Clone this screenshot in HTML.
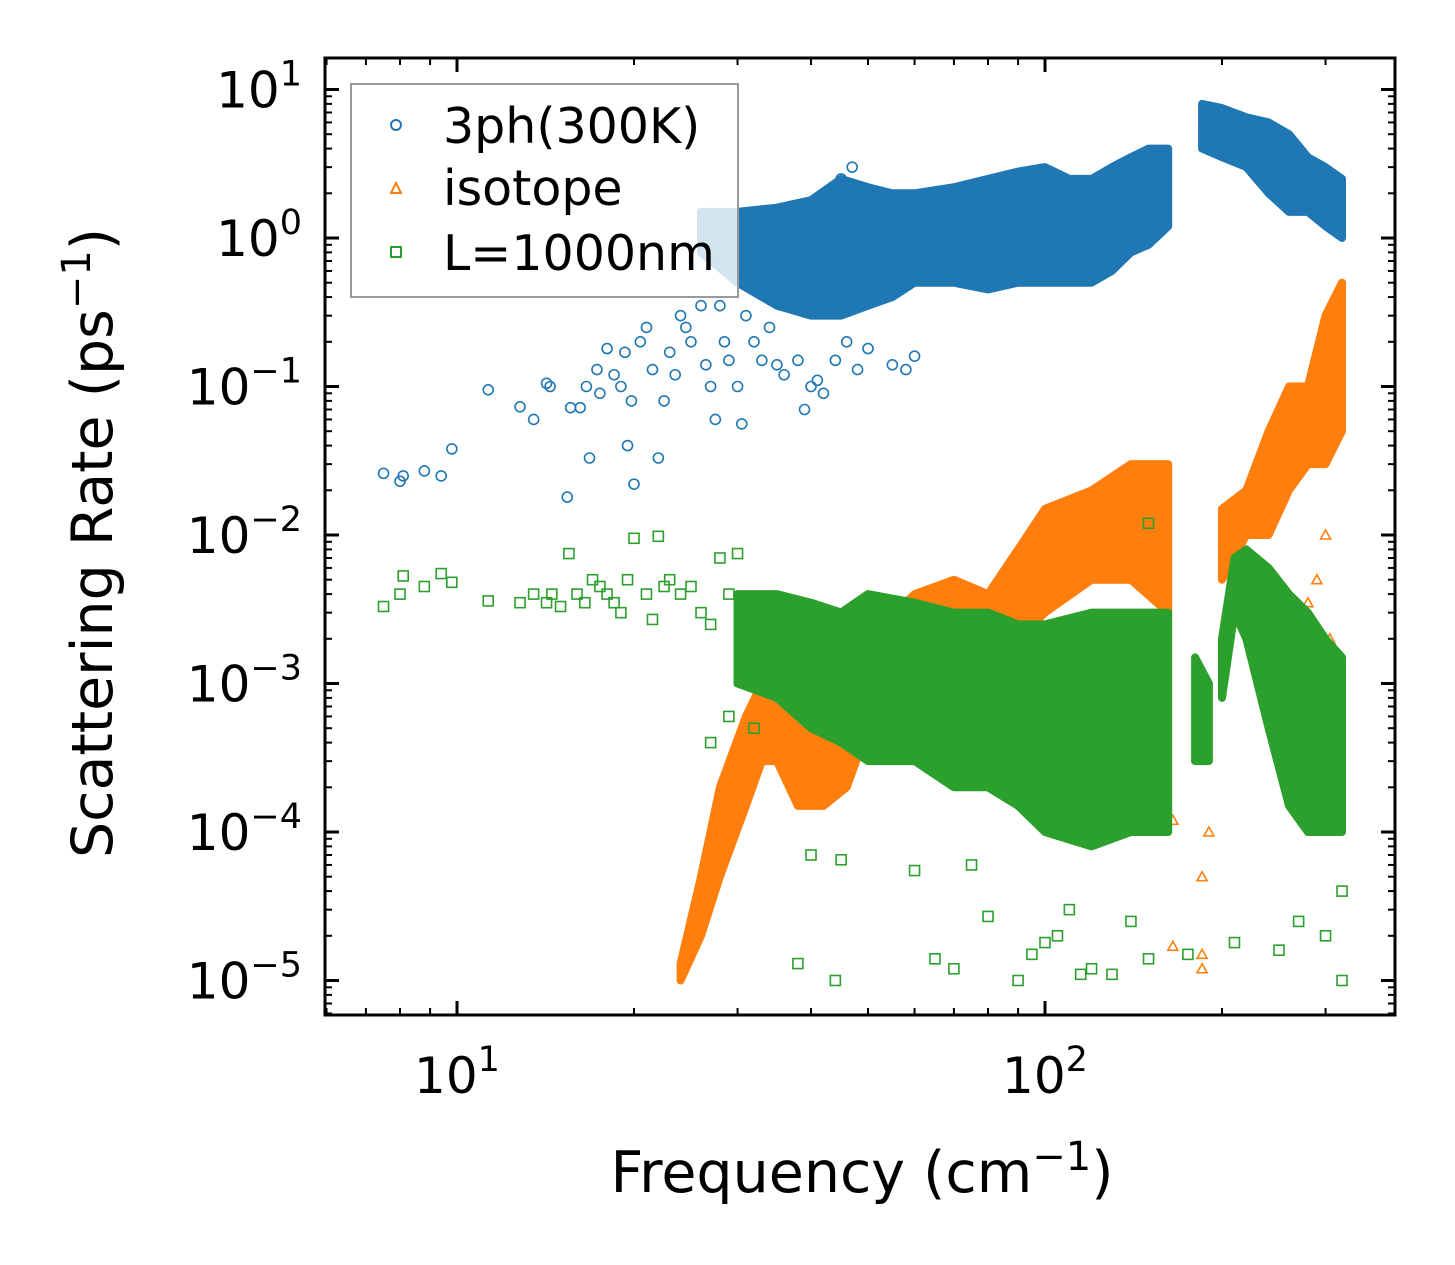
<!DOCTYPE html>
<html><head><meta charset="utf-8"><style>
html,body{margin:0;padding:0;background:#fff;}
svg{display:block;font-family:"DejaVu Sans","Liberation Sans",sans-serif;}
</style></head><body>
<svg id="chart" width="1455" height="1265" viewBox="0 0 1455 1265" xmlns="http://www.w3.org/2000/svg">
<rect width="1455" height="1265" fill="#fff"/>
<g id="plot"></g>
<g id="axes"></g>
<g id="legend">
<rect x="351" y="84" width="387" height="213" fill="#fff" fill-opacity="0.8" stroke="#999" stroke-width="2"/>
<circle cx="396" cy="125" r="5" fill="none" stroke="#1f77b4" stroke-width="2"/>
<text x="443" y="143" font-size="49">3ph(300K)</text>
<polygon points="396,183 401,193 391,193" fill="none" stroke="#ff7f0e" stroke-width="2"/>
<text x="443" y="205" font-size="49">isotope</text>
<rect x="391" y="247" width="10" height="10" fill="none" stroke="#2ca02c" stroke-width="2"/>
<text x="443" y="270" font-size="49">L=1000nm</text>
</g>
<text x="862" y="1192" font-size="57" text-anchor="middle">Frequency (cm<tspan dy="-22" font-size="40">−1</tspan><tspan dy="22">)</tspan></text>
<text transform="translate(112,543) rotate(-90)" font-size="57" text-anchor="middle">Scattering Rate (ps<tspan dy="-22" font-size="40">−1</tspan><tspan dy="22">)</tspan></text>
</svg>
<script>
// ---- data ----
const xTickExps = [1, 2];
const yTickExps = [1, 0, -1, -2, -3, -4, -5];
// dense clouds as bands: [freq, low, high]
const band3ph = [[26,0.8,1.5],[30,0.5,1.5],[35,0.35,1.6],[40,0.3,1.8],[45,0.3,2.5],[50,0.35,2.2],[55,0.4,2],[60,0.5,2],[70,0.5,2.2],[80,0.45,2.5],[90,0.5,2.8],[100,0.5,3],[110,0.5,2.5],[120,0.5,2.5],[130,0.6,3],[140,0.8,3.5],[150,0.9,4],[162,1.2,4]];
const band3phHigh = [[185,4,8],[200,3.5,7.5],[220,3,6.5],[240,2,6],[260,1.5,5],[280,1.5,3.5],[300,1.2,3],[320,1,2.5]];
const bandIso = [[24,1e-5,1.3e-5],[26,2e-5,5e-5],[28,5e-5,2e-4],[31,1.5e-4,6e-4],[33,3e-4,1e-3],[35,3e-4,1.2e-3],[38,1.5e-4,6e-4],[42,1.5e-4,4e-4],[46,2e-4,1e-3],[50,5e-4,2e-3],[60,1e-3,4e-3],[70,1e-3,5e-3],[80,1e-3,4e-3],[90,2e-3,8e-3],[100,3e-3,1.5e-2],[120,5e-3,2e-2],[140,5e-3,3e-2],[162,3e-3,3e-2]];
const bandIsoHigh = [[200,5e-3,1.5e-2],[220,1e-2,2e-2],[240,1e-2,5e-2],[260,2e-2,1e-1],[280,3e-2,0.1],[300,0.03,0.3],[320,0.05,0.5]];
const bandL = [[30,1e-3,4e-3],[35,8e-4,4e-3],[40,5e-4,3.5e-3],[45,4e-4,3e-3],[50,3e-4,4e-3],[60,3e-4,3.5e-3],[70,2e-4,3e-3],[80,2e-4,3e-3],[90,1.5e-4,2.5e-3],[100,1e-4,2.5e-3],[120,8e-5,3e-3],[140,1e-4,3e-3],[162,1e-4,3e-3]];
const bandLMid = [[180,3e-4,1.5e-3],[190,3e-4,1e-3]];
const bandLHigh = [[200,8e-4,2e-3],[210,3e-3,7e-3],[220,2e-3,8e-3],[240,5e-4,6e-3],[260,1.5e-4,4e-3],[280,1e-4,3e-3],[300,1e-4,2e-3],[320,1e-4,1.5e-3]];
// sparse points
const pts3ph = [[7.5,0.026],[8,0.023],[8.1,0.025],[8.8,0.027],[9.4,0.025],[9.8,0.038],[11.3,0.095],[12.8,0.073],[13.5,0.06],[14.2,0.105],[14.4,0.1],[15.4,0.018],[15.6,0.072],[16.2,0.072],[16.6,0.1],[16.8,0.033],[17.3,0.13],[17.5,0.09],[18,0.18],[18.5,0.12],[19,0.1],[19.3,0.17],[19.5,0.04],[19.8,0.08],[20,0.022],[20.5,0.2],[21,0.25],[21.5,0.13],[22,0.033],[22.5,0.08],[23,0.17],[23.5,0.12],[24,0.3],[24.5,0.25],[25,0.2],[26,0.35],[26.5,0.14],[27,0.1],[27.5,0.06],[28,0.35],[28.5,0.2],[29,0.15],[30,0.1],[30.5,0.056],[31,0.3],[32,0.2],[33,0.15],[34,0.25],[35,0.14],[36,0.12],[38,0.15],[39,0.07],[40,0.1],[41,0.11],[42,0.09],[44,0.15],[46,0.2],[48,0.13],[50,0.18],[55,0.14],[58,0.13],[60,0.16],[45,2.5],[47,3],[150,1.3],[160,1.3]];
const ptsIso = [[165,1.7e-5],[165,1.2e-4],[185,1.5e-5],[185,1.2e-5],[185,5e-5],[190,1e-4],[280,3.5e-3],[300,2e-3],[305,2e-3],[300,1e-2],[290,5e-3],[300,1e-3]];
const ptsL = [[7.5,3.3e-3],[8,4e-3],[8.1,5.3e-3],[8.8,4.5e-3],[9.4,5.5e-3],[9.8,4.8e-3],[11.3,3.6e-3],[12.8,3.5e-3],[13.5,4e-3],[14.2,3.5e-3],[14.5,4e-3],[15,3.3e-3],[15.5,7.5e-3],[16,4e-3],[16.5,3.5e-3],[17,5e-3],[17.5,4.5e-3],[18,4e-3],[18.5,3.5e-3],[19,3e-3],[19.5,5e-3],[20,9.5e-3],[21,4e-3],[21.5,2.7e-3],[22,9.8e-3],[22.5,4.5e-3],[23,5e-3],[24,4e-3],[25,4.5e-3],[26,3e-3],[27,2.5e-3],[28,7e-3],[29,4e-3],[30,7.5e-3],[27,4e-4],[29,6e-4],[32,5e-4],[38,1.3e-5],[44,1e-5],[40,7e-5],[45,6.5e-5],[60,5.5e-5],[65,1.4e-5],[70,1.2e-5],[75,6e-5],[80,2.7e-5],[90,1e-5],[95,1.5e-5],[100,1.8e-5],[105,2e-5],[110,3e-5],[115,1.1e-5],[120,1.2e-5],[130,1.1e-5],[140,2.5e-5],[150,1.4e-5],[150,1.2e-2],[175,1.5e-5],[210,1.8e-5],[250,1.6e-5],[270,2.5e-5],[300,2e-5],[320,1e-5],[320,4e-5]];

// ---- axes functions ----
const L=325,R=1395,T=58,B=1015;
const xs = f => 457 + 588*(Math.log10(f)-1);
const ys = v => 238 - 148.5*Math.log10(v);
const NS="http://www.w3.org/2000/svg";
const plot=document.getElementById('plot'), axes=document.getElementById('axes');
function mk(tag,attrs,parent){const e=document.createElementNS(NS,tag);for(const k in attrs)e.setAttribute(k,attrs[k]);parent.appendChild(e);return e;}

const colors={b:'#1f77b4',o:'#ff7f0e',g:'#2ca02c'};
function drawBand(band,color,name){
  const up=band.map(d=>xs(d[0]).toFixed(1)+','+ys(d[2]).toFixed(1));
  const lo=band.slice().reverse().map(d=>xs(d[0]).toFixed(1)+','+ys(d[1]).toFixed(1));
  const p=mk('polygon',{points:up.concat(lo).join(' '),fill:color,stroke:color,'stroke-width':8,'stroke-linejoin':'round'},plot);
  
  
}
function drawPts(pts,color,shape,name){
  pts.forEach(d=>{
    const x=xs(d[0]),y=ys(d[1]);let e;
    if(shape==='c') e=mk('circle',{cx:x,cy:y,r:5,fill:'none',stroke:color,'stroke-width':1.6},plot);
    else if(shape==='t') e=mk('polygon',{points:`${x},${y-5} ${x+5},${y+4} ${x-5},${y+4}`,fill:'none',stroke:color,'stroke-width':1.6},plot);
    else e=mk('rect',{x:x-5,y:y-5,width:10,height:10,fill:'none',stroke:color,'stroke-width':1.6},plot);
    
    
  });
}
drawBand(band3ph,colors.b,'band-3ph');
drawBand(band3phHigh,colors.b,'band-3ph-high');
drawPts(pts3ph,colors.b,'c','point-3ph');
drawBand(bandIso,colors.o,'band-isotope');
drawBand(bandIsoHigh,colors.o,'band-isotope-high');
drawPts(ptsIso,colors.o,'t','point-isotope');
drawBand(bandL,colors.g,'band-l1000nm');
drawBand(bandLMid,colors.g,'band-l1000nm-mid');
drawBand(bandLHigh,colors.g,'band-l1000nm-high');
drawPts(ptsL,colors.g,'s','point-l1000nm');

// frame
const fr=mk('rect',{x:L,y:T,width:R-L,height:B-T,fill:'none',stroke:'#000','stroke-width':3},axes);


// x ticks
for(let e=0;e<=2;e++){for(let m=1;m<10;m++){const f=m*Math.pow(10,e);const x=xs(f);if(x<L||x>R)continue;
  const len=m===1?14:7;
  mk('line',{x1:x,y1:B,x2:x,y2:B-len,stroke:'#000','stroke-width':m===1?3:2},axes);
  mk('line',{x1:x,y1:T,x2:x,y2:T+len,stroke:'#000','stroke-width':m===1?3:2},axes);}}
xTickExps.forEach(e=>{const t=mk('text',{x:xs(Math.pow(10,e)),y:1093,'font-size':50,'text-anchor':'middle'},axes);
  
  
  t.innerHTML=`10<tspan dy="-22" font-size="35">${e}</tspan>`;});
// y ticks
for(let e=-6;e<=1;e++){for(let m=1;m<10;m++){const v=m*Math.pow(10,e);const y=ys(v);if(y<T||y>B)continue;
  const len=m===1?14:7;
  mk('line',{x1:L,y1:y,x2:L+len,y2:y,stroke:'#000','stroke-width':m===1?3:2},axes);
  mk('line',{x1:R,y1:y,x2:R-len,y2:y,stroke:'#000','stroke-width':m===1?3:2},axes);}}
yTickExps.forEach(e=>{const t=mk('text',{x:302,y:ys(Math.pow(10,e))+18,'font-size':50,'text-anchor':'end'},axes);
  
  
  const s=e<0?'−'+(-e):''+e;
  t.innerHTML=`10<tspan dy="-22" font-size="35">${s}</tspan>`;});
</script>
</body></html>
